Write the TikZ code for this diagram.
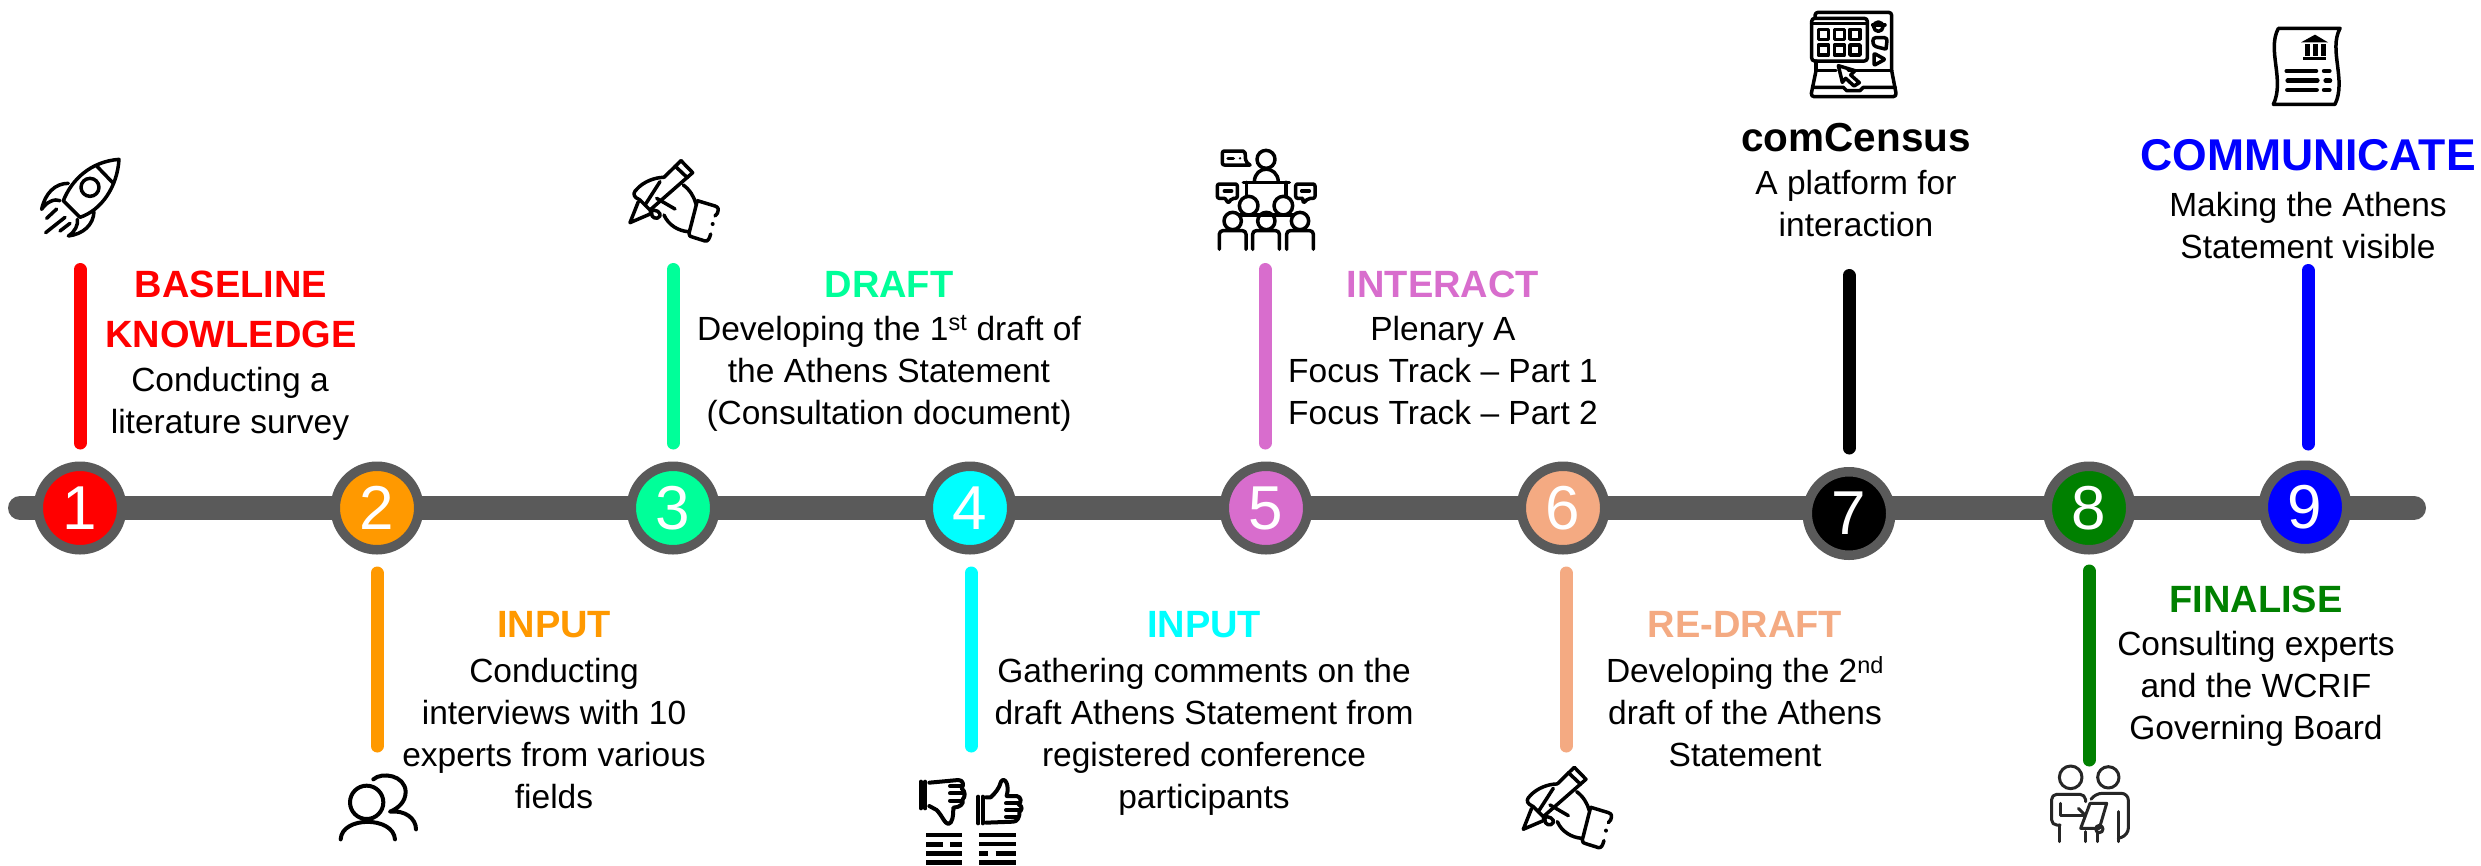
\documentclass[tikz,border=0pt]{standalone}
\usepackage{fontspec}
\setmainfont{Liberation Sans}
\definecolor{trackgray}{HTML}{5A5A5A}
\definecolor{cRed}{HTML}{FF0000}
\definecolor{cOrange}{HTML}{FF9900}
\definecolor{cMint}{HTML}{00FF99}
\definecolor{cCyan}{HTML}{00FFFF}
\definecolor{cPurple}{HTML}{D86DCD}
\definecolor{cSalmon}{HTML}{F4AA82}
\definecolor{cGreen}{HTML}{008000}
\definecolor{cBlue}{HTML}{0000FF}
\tikzset{
  milestone/.style={circle,draw=trackgray,line width=9.5pt,fill=#1,minimum size=83.5pt,inner sep=0pt,text=white,font=\fontsize{62}{62}\selectfont},
  stem/.style={draw=#1,line width=13pt,line cap=round},
  track/.style={draw=trackgray,line width=24pt,line cap=round},
  ttl/.style={anchor=base,inner sep=0pt,align=center,text=#1,font=\fontsize{38}{50}\selectfont\bfseries},
  lbl/.style={anchor=base,inner sep=0pt,align=center,font=\fontsize{33.5}{42}\selectfont},
  icon/.style n args={2}{xshift=#1pt,yshift=-#2pt,x=0.33333pt,y=-0.33333pt,line width=3.5pt,line cap=round,line join=round},
}
\newcommand\penhand{
  \draw (363,92)--(398,128)--(270,240)--(240,210)--(228,203) .. controls (218,195) and (222,185) .. (230,178) .. controls (250,155) and (285,142) .. (312,142);
  \draw (312,142)--(363,92);
  \draw (345,108)--(382,143);
  \draw (300,155)--(255,225);
  \draw (235,215)--(210,278)--(275,250);
  \draw (270,245) .. controls (285,232) and (305,250) .. (300,258) .. controls (292,272) and (272,262) .. (275,250);
  \draw (290,205)--(345,237);
  \draw (370,165) .. controls (390,180) and (402,200) .. (408,222);
  \draw (312,255) .. controls (325,285) and (355,303) .. (385,305);
  \draw (412,212)--(465,228) .. controls (478,232) and (475,240) .. (472,250)--(465,258);
  \draw (412,212)--(387,310) .. controls (385,318) and (392,320) .. (400,322)--(435,333) .. controls (445,335) and (448,325) .. (452,312);
  \fill (458,282) circle[radius=6];
}
\begin{document}
\begin{tikzpicture}[x=1pt,y=-1pt]
\useasboundingbox[fill=white] (0,0) rectangle (2481,865);
% track
\coordinate (trackL) at (20,508);
\coordinate (trackR) at (2414,508);
\draw[track] (trackL) -- (trackR);
% milestones
\node[milestone=cRed] (c1) at (80,508) {1};
\node[milestone=cOrange] (c2) at (377,508) {2};
\node[milestone=cMint] (c3) at (673,508) {3};
\node[milestone=cCyan] (c4) at (970,508) {4};
\node[milestone=cPurple] (c5) at (1266,508) {5};
\node[milestone=cSalmon] (c6) at (1563,508) {6};
\node[milestone=black] (c7) at (1849,513.5) {7};
\node[milestone=cGreen] (c8) at (2089,508) {8};
\node[milestone=cBlue] (c9) at (2305,507) {9};
% stems
\coordinate (s1) at (80,269.5);
\coordinate (s2) at (377,746);
\coordinate (s3) at (673,269.5);
\coordinate (s4) at (971,746);
\coordinate (s5) at (1265,269.5);
\coordinate (s6) at (1566,746);
\coordinate (s7) at (1849,275.5);
\coordinate (s8) at (2089,760);
\coordinate (s9) at (2308,270.5);
\foreach \n/\colr/\gap in {1/cRed/18.5,3/cMint/18.5,5/cPurple/18.5,7/black/19,9/cBlue/16.5}{
  \draw[stem=\colr,shorten >=\gap pt] (s\n) -- (s\n |- c\n.north);
}
\foreach \n/\colr/\gap in {2/cOrange/18.5,4/cCyan/18.5,6/cSalmon/18.5,8/cGreen/16.5}{
  \draw[stem=\colr,shorten >=\gap pt] (s\n) -- (s\n |- c\n.south);
}
% texts (anchor=base gives the baseline of the last line)
\node[ttl=cRed] (t1) at (231,347) {BASELINE\\KNOWLEDGE};
\node[lbl] (b1) at (230,433) {Conducting a\\literature survey};
\node[ttl=cOrange] (t2) at (554,637) {INPUT};
\node[lbl] (b2) at (554,808.5) {Conducting\\interviews with 10\\experts from various\\fields};
\node[ttl=cMint] (t3) at (889,297) {DRAFT};
\node[lbl] (b3) at (889,424) {Developing the 1\textsuperscript{st} draft of\\the Athens Statement\\(Consultation document)};
\node[ttl=cCyan] (t4) at (1204,637) {INPUT};
\node[lbl] (b4) at (1204,808.5) {Gathering comments on the\\draft Athens Statement from\\registered conference\\participants};
\node[ttl=cPurple] (t5) at (1443,297) {INTERACT};
\node[lbl] (b5) at (1443,424) {Plenary A\\Focus Track -- Part 1\\Focus Track -- Part 2};
\node[ttl=cSalmon] (t6) at (1745,637) {RE-DRAFT};
\node[lbl] (b6) at (1745,766.5) {Developing the 2\textsuperscript{nd}\\draft of the Athens\\Statement};
\node[ttl=black,font=\fontsize{40.5}{50}\selectfont\bfseries] (t7) at (1856,151) {comCensus};
\node[lbl] (b7) at (1856,236) {A platform for\\interaction};
\node[ttl=cGreen] (t8) at (2256,612) {FINALISE};
\node[lbl] (b8) at (2256,739.5) {Consulting experts\\and the WCRIF\\Governing Board};
\node[ttl=cBlue,font=\fontsize{44.5}{50}\selectfont\bfseries] (t9) at (2308,170) {COMMUNICATE};
\node[lbl] (b9) at (2308,258) {Making the Athens\\Statement visible};
% rocket
\begin{scope}[icon={0}{130}]
  \draw (190,212) .. controls (215,150) and (270,95) .. (357,88) .. controls (352,170) and (305,240) .. (240,262) -- cycle;
  \draw (290,108)--(340,160);
  \draw (270,172) circle[radius=27];
  \draw (205,160) .. controls (165,160) and (135,190) .. (125,238) .. controls (140,215) and (165,205) .. (180,212);
  \draw (282,245) .. controls (280,285) and (250,312) .. (205,318) .. controls (225,305) and (235,285) .. (232,268);
  \draw (170,237)--(140,265);
  \draw (195,262)--(137,308);
  \draw (210,280)--(180,303);
\end{scope}
% pen hands
\begin{scope}[icon={560}{130}] \penhand \end{scope}
\begin{scope}[icon={1453.3}{736.6}] \penhand \end{scope}
% audience
\begin{scope}[icon={1190}{130}]
  \draw (228,88) circle[radius=27];
  \draw (193,155) .. controls (195,105) and (262,105) .. (265,155);
  \draw (160,157)--(298,157);
  \draw (170,157)--(170,200);
  \draw (288,157)--(288,200);
  \draw (150,255)--(310,255);
  \foreach \cx in {176,280} \draw (\cx,227) circle[radius=28];
  \foreach \cx in {128,229,330} \draw (\cx,273) circle[radius=26];
  \foreach \cx in {88,188,290} \draw[rounded corners=3.5pt] (\cx,358)--(\cx,302)--(\cx+80,302)--(\cx+80,358);
  \draw[rounded corners=2pt] (180,105)--(97,105)--(97,63)--(165,63)--(167,95)--(180,105);
  \draw (114,85)--(130,85);
  \fill (150,85) circle[radius=4];
  \draw[rounded corners=2pt] (105,205)--(82,205)--(82,162)--(142,162)--(142,205)--(125,205)--(115,220)--(105,205);
  \draw (103,183)--(125,183);
  \draw[rounded corners=2pt] (338,205)--(317,205)--(317,162)--(375,162)--(375,205)--(355,205)--(340,220)--(338,205);
  \draw (335,183)--(358,183);
\end{scope}
% laptop
\begin{scope}[icon={1780}{0}]
  \draw[rounded corners=3pt] (105,55)--(105,37)--(335,37)--(335,212);
  \draw[rounded corners=3pt] (95,55)--(262,55)--(262,183)--(95,183)--cycle;
  \draw (95,70)--(262,70);
  \foreach \gx in {115,163,210} \foreach \gy in {88,135} \draw (\gx,\gy) rectangle (\gx+30,\gy+30);
  \draw (295,80) circle[radius=14];
  \draw (278,75)--(315,75);
  \draw[rounded corners=3pt] (315,147)--(280,138)--(278,113)--(322,113)--(318,147);
  \draw[rounded corners=1pt] (282,160)--(315,178)--(282,196)--cycle;
  \draw (108,183)--(108,212)--(168,212);
  \draw (205,212)--(335,212);
  \draw[rounded corners=3.5pt] (108,212)--(92,290)--(350,290)--(335,212);
  \draw (98,262)--(190,262)--(200,272)--(240,272)--(250,262)--(346,262);
  \draw (175,197)--(225,212)--(212,225)--(238,248)--(222,258)--(197,235)--(187,247)--cycle;
\end{scope}
% document
\begin{scope}[icon={2240}{10}]
  \draw (115,55)--(300,55) .. controls (265,120) and (320,210) .. (285,283)--(100,283) .. controls (135,210) and (80,120) .. (115,55);
  \fill (183,97)--(225,74)--(264,97)--cycle;
  \fill (190,140) rectangle (258,150);
  \draw[line width=5pt,line cap=butt] (201,103)--(201,137) (225,103)--(225,137) (249,103)--(249,137);
  \draw[line width=4.5pt] (140,183)--(228,183) (252,183)--(268,183) (143,212)--(232,212) (257,212)--(270,212) (142,240)--(230,240) (252,240)--(268,240);
\end{scope}
% people
\begin{scope}[icon={310}{760}]
  \draw[line width=4pt] (170,127) circle[radius=50];
  \draw[line width=4pt] (92,238) .. controls (95,168) and (250,168) .. (255,238);
  \draw[line width=4pt] (190,58) .. controls (215,35) and (285,45) .. (287,95) .. controls (287,125) and (265,145) .. (240,155) .. controls (285,150) and (318,175) .. (318,208);
\end{scope}
% thumbs
\begin{scope}[icon={900}{760}]
  \draw[line width=4pt] (63,65)--(63,145) (76,65)--(76,145) (235,110)--(235,190) (248,110)--(248,190);
  \draw[line width=4pt] (88,68)--(175,60) .. controls (190,60) and (192,75) .. (185,85) .. controls (198,95) and (195,112) .. (188,118) .. controls (192,132) and (180,142) .. (160,143) .. controls (160,165) and (158,190) .. (145,192) .. controls (135,192) and (125,165) .. (110,150)--(88,138);
  \draw[line width=4pt] (150,78)--(185,78) (150,100)--(192,100) (150,122)--(185,122);
  \draw[line width=4pt] (258,112)--(272,112) .. controls (285,100) and (298,85) .. (303,65) .. controls (312,50) and (330,70) .. (320,108)--(350,108) .. controls (365,110) and (365,130) .. (355,132) .. controls (370,140) and (365,152) .. (358,155) .. controls (360,170) and (352,185) .. (340,185)--(258,188);
  \draw[line width=4pt] (318,130)--(355,130) (318,150)--(360,150) (318,170)--(352,170);
  \draw[line width=4.5pt,line cap=butt] (78,225)--(185,225) (78,253)--(128,253) (150,253)--(186,253) (78,280)--(186,280) (78,308)--(186,308);
  \draw[line width=4.5pt,line cap=butt] (238,225)--(347,225) (238,252)--(347,252) (238,280)--(265,280) (287,280)--(347,280) (238,307)--(347,307);
\end{scope}
% consultation
\begin{scope}[icon={2020}{760},draw=black!85,line width=3pt]
  \draw (152,52) circle[radius=34];
  \draw (265,52) circle[radius=32];
  \draw[rounded corners=5pt] (120,195)--(95,195)--(95,103)--(195,103)--(197,125);
  \draw (120,130)--(120,165)--(190,165);
  \draw (175,145)--(195,165);
  \draw (118,195)--(118,245) (195,215)--(195,245) (232,218)--(232,245);
  \draw (210,130)--(260,130)--(238,205)--(182,205)--cycle;
  \draw[rounded corners=7pt] (215,115)--(225,100)--(325,100)--(325,225)--(295,235);
  \draw (295,155)--(295,245);
  \draw (238,207) circle[radius=11];
\end{scope}
\end{tikzpicture}
\end{document}
